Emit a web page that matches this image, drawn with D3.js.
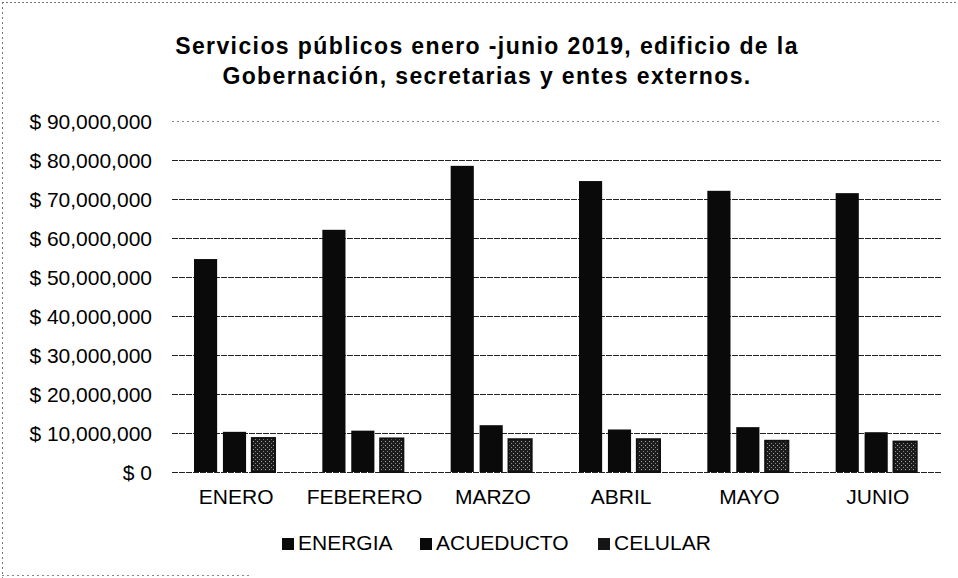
<!DOCTYPE html>
<html><head><meta charset="utf-8">
<script src="https://cdn.jsdelivr.net/npm/d3@7"></script>
<style>body{margin:0;background:#fff}svg{display:block}</style>
</head><body>
<svg id="c" width="958" height="578"></svg>
<script>
const months = ["ENERO","FEBERERO","MARZO","ABRIL","MAYO","JUNIO"];
const seriesNames = ["ENERGIA","ACUEDUCTO","CELULAR"];
const energia   = [54600000, 62100000, 78500000, 74600000, 72100000, 71500000];
const acueducto = [10300000, 10600000, 12000000, 10900000, 11500000, 10200000];
const celular   = [8700000, 8600000, 8400000, 8400000, 8000000, 7800000];
const yTicks = [0,10000000,20000000,30000000,40000000,50000000,60000000,70000000,80000000,90000000];
const titleLines = ["Servicios públicos enero -junio 2019, edificio de la","Gobernación, secretarias y entes externos."];

const values = [energia, acueducto, celular];
const svg = d3.select("#c");
const font = "'Liberation Sans', Arial, sans-serif";

// pattern for celular
const defs = svg.append("defs");
const pat = defs.append("pattern").attr("id","speck").attr("width",4).attr("height",4).attr("patternUnits","userSpaceOnUse");
pat.append("rect").attr("width",4).attr("height",4).attr("fill","#1c1c1c");
pat.append("rect").attr("x",1).attr("y",1).attr("width",1).attr("height",1).attr("fill","#aaa");
pat.append("rect").attr("x",3).attr("y",3).attr("width",1).attr("height",1).attr("fill","#888");

// border (dotted scan frame)
svg.append("line").attr("x1",2).attr("x2",956).attr("y1",2.5).attr("y2",2.5).attr("stroke","#777").attr("stroke-dasharray","2,2");
svg.append("line").attr("x1",2.5).attr("x2",2.5).attr("y1",2).attr("y2",578).attr("stroke","#777").attr("stroke-dasharray","2,3");
svg.append("line").attr("x1",2).attr("x2",250).attr("y1",575.5).attr("y2",575.5).attr("stroke","#888").attr("stroke-dasharray","2,3");

// title
svg.append("g").selectAll("text").data(titleLines).join("text")
  .attr("x",487).attr("y",(d,i)=>54+i*30)
  .attr("text-anchor","middle").attr("font-family",font).attr("font-weight","bold")
  .attr("font-size",23).attr("letter-spacing","1.4px").attr("fill","#000").text(d=>d);

const y = d3.scaleLinear().domain([0,90000000]).range([472,121]);
const x0 = d3.scaleBand().domain(months).range([172,942]).padding(0);
const x1 = d3.scaleBand().domain(seriesNames).range([22,103]).paddingInner(0.2);

// gridlines
svg.append("g").selectAll("line").data(yTicks).join("line")
  .attr("x1",172).attr("x2",942).attr("y1",d=>Math.round(y(d))+0.5).attr("y2",d=>Math.round(y(d))+0.5)
  .attr("stroke",d=>d===90000000?"#888":"#222").attr("stroke-width",1)
  .attr("stroke-dasharray",d=>d===90000000?"2,3":"6,1");

// y axis labels
const yAxis = d3.axisLeft(y).tickValues(yTicks).tickSize(0).tickPadding(0)
  .tickFormat(d=>"$ "+d3.format(",")(d));
const ya = svg.append("g").attr("transform","translate(152,0)").call(yAxis);
ya.select(".domain").remove();
ya.selectAll("text").attr("font-family",font).attr("font-size",21).attr("fill","#000").attr("dy","0.35em");

// bars
const fills = ["#0a0a0a","#0a0a0a","url(#speck)"];
const g = svg.append("g");
months.forEach((m,i)=>{
  seriesNames.forEach((s,j)=>{
    const v = values[j][i];
    g.append("rect")
      .attr("x",x0(m)+x1(s)).attr("width",x1.bandwidth())
      .attr("y",y(v)).attr("height",y(0)-y(v))
      .attr("fill",fills[j]).attr("stroke",j===2?"#111":"none").attr("stroke-width",j===2?2:0);
  });
});

// x axis labels
const xAxis = d3.axisBottom(x0).tickSize(0).tickPadding(0);
const xa = svg.append("g").attr("transform","translate(0,504)").call(xAxis);
xa.select(".domain").remove();
xa.selectAll("text").attr("font-family",font).attr("font-size",21).attr("fill","#000").attr("dy","0");

// legend
const legX = [282,420,598];
const lg = svg.append("g").selectAll("g").data(seriesNames).join("g")
  .attr("transform",(d,i)=>`translate(${legX[i]},538)`);
lg.append("rect").attr("width",12).attr("height",12).attr("fill",(d,i)=>i===2?"#151515":"#0a0a0a");
lg.append("text").attr("x",16).attr("y",12).attr("font-family",font).attr("font-size",21).attr("fill","#000").text(d=>d);
</script>
</body></html>
